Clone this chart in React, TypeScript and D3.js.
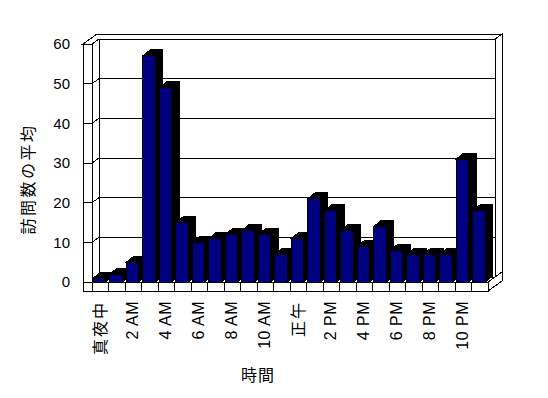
import React from "react";
import * as d3 from "d3";

const categories: string[] = [
  "0", "1", "2", "3", "4", "5", "6", "7", "8", "9", "10", "11",
  "12", "13", "14", "15", "16", "17", "18", "19", "20", "21", "22", "23",
];
const values: number[] = [1, 2, 5, 57, 49, 15, 10, 11, 12, 13, 12, 7, 11, 21, 18, 13, 9, 14, 8, 7, 7, 7, 31, 18];
const categoryLabels: string[] = [
  "真夜中", "", "2 AM", "", "4 AM", "", "6 AM", "", "8 AM", "", "10 AM", "",
  "正午", "", "2 PM", "", "4 PM", "", "6 PM", "", "8 PM", "", "10 PM", "",
];
const yTicks: number[] = [0, 10, 20, 30, 40, 50, 60];
const yTitle = "訪問数の平均";
const xTitle = "時間";

const W = 548;
const H = 398;
const X0 = 92;
const X1 = 488;
const WALL = 9;
const FLOOR = 9;
const DX = 7;
const DY = -5;
const BDX = 7.5;
const BDY = -6;

const isCJK = (s: string) => /[\u3000-\u9fff]/.test(s);

export default function App() {
  const x = d3.scaleBand<string>().domain(categories).range([X0, X1]).padding(0);
  const y = d3.scaleLinear().domain([0, 60]).range([282, 44]);
  const bw = x.bandwidth();
  const y0 = y(0);
  const yTop = y(60);
  const pts = (arr: number[][]) => arr.map((p) => p.join(",")).join(" ");
  const line = { stroke: "#000", strokeWidth: 1, fill: "none" } as const;

  return (
    <svg
      width={W}
      height={H}
      style={{ position: "absolute", left: 0, top: 0, background: "#fff" }}
      shapeRendering="crispEdges"
    >
      <rect x={0} y={0} width={W} height={H} fill="#fff" />
      <polygon
        points={pts([[X0 + DX, yTop + DY], [X1 + DX, yTop + DY], [X1 + DX, y0 + DY], [X0 + DX, y0 + DY]])}
        fill="#fff"
        stroke="#000"
      />
      <polygon
        points={pts([[X0 - WALL, yTop], [X0, yTop], [X0 + DX, yTop + DY], [X1 + DX, yTop + DY], [X1 + 2 * DX, yTop + 2 * DY], [X0 - WALL + 2 * DX, yTop + 2 * DY]])}
        fill="#fff"
        stroke="#000"
      />
      <polygon
        points={pts([[X1 + DX, yTop + DY], [X1 + 2 * DX, yTop + 2 * DY], [X1 + 2 * DX, y0 + FLOOR + 2 * DY], [X1, y0 + FLOOR], [X1, y0], [X1 + DX, y0 + DY]])}
        fill="#fff"
        stroke="#000"
      />
      <line x1={X1} y1={y0} x2={X1 + 2 * DX} y2={y0 + 2 * DY} {...line} />
      {yTicks.map((t) => (
        <g key={"g" + t}>
          <line x1={X0 + DX} y1={y(t) + DY} x2={X1 + DX} y2={y(t) + DY} {...line} />
          <line x1={X0} y1={y(t)} x2={X0 + DX} y2={y(t) + DY} {...line} />
          <line x1={X0 - WALL} y1={y(t)} x2={X0} y2={y(t)} {...line} />
        </g>
      ))}
      <rect x={X0 - WALL} y={yTop} width={WALL} height={y0 + FLOOR - yTop} fill="none" stroke="#000" />
      <rect x={X0 - WALL} y={y0} width={X1 - X0 + WALL} height={FLOOR} fill="#fff" stroke="#000" />
      {categories.map((c) => (
        <line key={"ft" + c} x1={x(c) as number} y1={y0} x2={x(c) as number} y2={y0 + FLOOR} {...line} />
      ))}
      <line x1={X1} y1={y0} x2={X1} y2={y0 + FLOOR} {...line} />
      {categories.map((c, i) => {
        const bx = (x(c) as number) + bw * 0.08;
        const bW = bw * 0.75;
        const top = y(values[i]);
        return (
          <g key={"b" + c}>
            <polygon
              points={pts([[bx, top], [bx + BDX, top + BDY], [bx + bW + BDX, top + BDY], [bx + bW + BDX, y0 + BDY], [bx + bW, y0], [bx + bW, top]])}
              fill="#000"
              stroke="#000"
            />
            <rect x={bx} y={top} width={bW} height={y0 - top} fill="#000080" stroke="#000" />
          </g>
        );
      })}
      {yTicks.map((t) => (
        <text
          key={"yl" + t}
          x={70}
          y={y(t)}
          dy="0.36em"
          textAnchor="end"
          fontFamily="'Liberation Sans', Arial, sans-serif"
          fontSize={15}
          fill="#000"
        >
          {t}
        </text>
      ))}
      {categories.map((c, i) =>
        categoryLabels[i] ? (
          <text
            key={"cl" + c}
            transform={`translate(${(x(c) as number) + bw / 2 - 1},301) rotate(-90)`}
            textAnchor="end"
            dominantBaseline="central"
            fontFamily={isCJK(categoryLabels[i]) ? "'Noto Sans CJK JP', sans-serif" : "'Liberation Sans', Arial, sans-serif"}
            fontSize={16}
            letterSpacing={isCJK(categoryLabels[i]) ? 2 : 0.5}
            fill="#000"
          >
            {categoryLabels[i]}
          </text>
        ) : null
      )}
      <text
        transform="translate(26.5,179) rotate(-90)"
        textAnchor="middle"
        dominantBaseline="central"
        fontFamily="'Noto Sans CJK JP', sans-serif"
        fontSize={16}
        letterSpacing={2.5}
        fill="#000"
      >
        {yTitle}
      </text>
      <text
        x={258}
        y={381}
        textAnchor="middle"
        fontFamily="'Noto Sans CJK JP', sans-serif"
        fontSize={16}
        letterSpacing={1}
        fill="#000"
      >
        {xTitle}
      </text>
    </svg>
  );
}
